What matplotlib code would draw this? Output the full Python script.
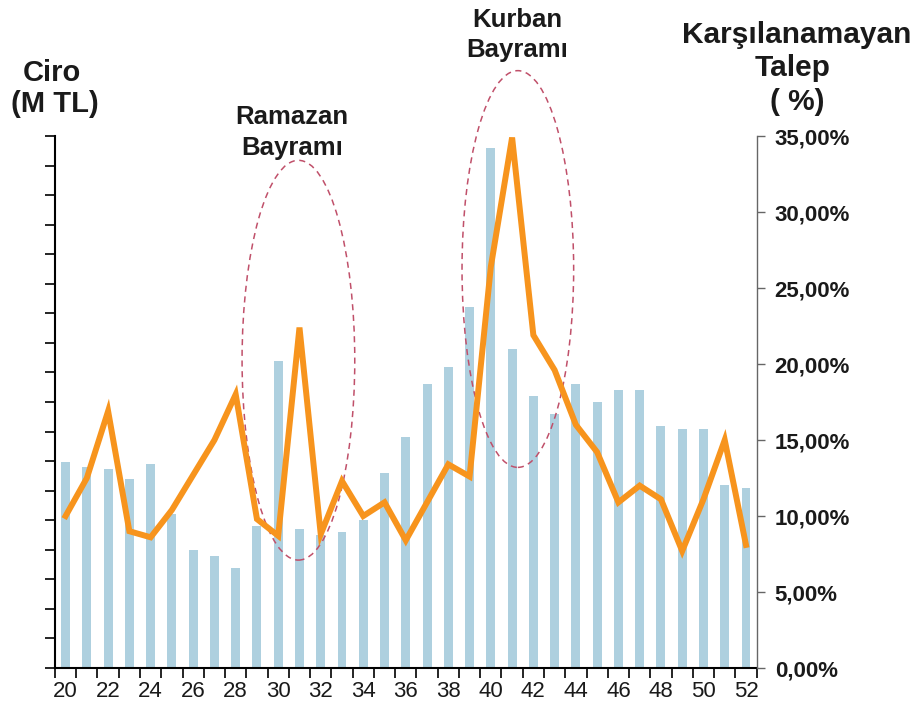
import matplotlib
matplotlib.use("Agg")
import matplotlib.pyplot as plt
from matplotlib.patches import Ellipse
import numpy as np

weeks = list(range(20, 53))
ciro = [6.97, 6.8, 6.75, 6.4, 6.9, 5.2, 4.0, 3.8, 3.4, 4.8, 10.4, 4.7, 4.5, 4.6, 5.0, 6.6,
        7.8, 9.6, 10.2, 12.2, 17.6, 10.8, 9.2, 8.6, 9.6, 9.0, 9.4, 9.4, 8.2, 8.1, 8.1, 6.2, 6.1]
talep = [10.0, 12.5, 16.9, 9.0, 8.6, 10.4, 12.7, 15.0, 18.0, 9.8, 8.7, 22.4, 8.8, 12.3, 10.0, 10.9,
         8.4, 10.9, 13.4, 12.6, 26.4, 34.9, 21.9, 19.6, 16.0, 14.2, 10.9, 12.0, 11.1, 7.7, 11.1, 15.0, 8.1]
pct_ticks = [0, 5, 10, 15, 20, 25, 30, 35]
pct_labels = ["0,00%", "5,00%", "10,00%", "15,00%", "20,00%", "25,00%", "30,00%", "35,00%"]
x_labels = [str(w) for w in range(20, 53, 2)]

plt.rcParams['font.family'] = ['Liberation Sans', 'DejaVu Sans']

fig = plt.figure(figsize=(9.16, 7.17), dpi=100)
ax = fig.add_axes([0.060, 0.0683, 0.766, 0.742])
ax2 = ax.twinx()

ax.bar(weeks, ciro, width=0.42, color="#AED0DF", zorder=1)
ax.set_ylim(0, 18)
ax.set_xlim(19.5, 52.5)
ax.set_yticks(np.arange(0, 19, 1))
ax.set_yticklabels([])
ax.tick_params(axis='y', direction='out', length=7, width=1.2, color='black')

ax.set_xticks(np.arange(19.5, 53, 1))
ax.set_xticklabels([])
ax.set_xticks(list(range(20, 53, 2)), minor=True)
ax.set_xticklabels(x_labels, minor=True, fontsize=16, color='#1a1a1a')
ax.tick_params(axis='x', which='major', direction='out', length=7, width=1.2)
ax.tick_params(axis='x', which='minor', length=0, pad=9)

ax.spines['top'].set_visible(False)
ax2.spines['top'].set_visible(False)
ax.spines['left'].set_linewidth(1.5)
ax.spines['bottom'].set_linewidth(1.5)
ax.spines['right'].set_visible(False)
ax2.spines['left'].set_visible(False)
ax2.spines['bottom'].set_visible(False)
ax2.spines['right'].set_color('#666666')
ax2.spines['right'].set_linewidth(1.0)

ax2.plot(weeks, talep, color="#F7941D", lw=4.3, solid_joinstyle='miter', zorder=3)
ax2.set_ylim(0, 35)
ax2.set_yticks(pct_ticks)
ax2.set_yticklabels(pct_labels, fontsize=16, fontweight='bold', color='#1a1a1a')
ax2.tick_params(axis='y', direction='out', length=6, width=1.0, color='#666666', pad=7)

ell_kw = dict(fill=False, edgecolor="#C0506A", linestyle=(0, (4, 3)), lw=1.1, clip_on=False, zorder=2)
ax2.add_patch(Ellipse((30.95, 20.25), 5.3, 26.3, **ell_kw))
ax2.add_patch(Ellipse((41.27, 26.25), 5.25, 26.1, **ell_kw))

def ftxt(x, y, s, size):
    fig.text(x / 916, 1 - y / 717, s, fontsize=size, fontweight='bold', color='#1a1a1a',
             ha='center', va='center')

ftxt(52, 73, "Ciro", 21)
ftxt(55, 104, "(M TL)", 21)
ftxt(797, 35, "Karşılanamayan", 21.5)
ftxt(793, 68, "Talep", 21.5)
ftxt(797, 102, "( %)", 21.5)
ftxt(517, 20, "Kurban", 18.5)
ftxt(517, 50, "Bayramı", 18.5)
ftxt(292, 117, "Ramazan", 18.5)
ftxt(292, 148, "Bayramı", 18.5)

fig.savefig("out.png", dpi=100)
